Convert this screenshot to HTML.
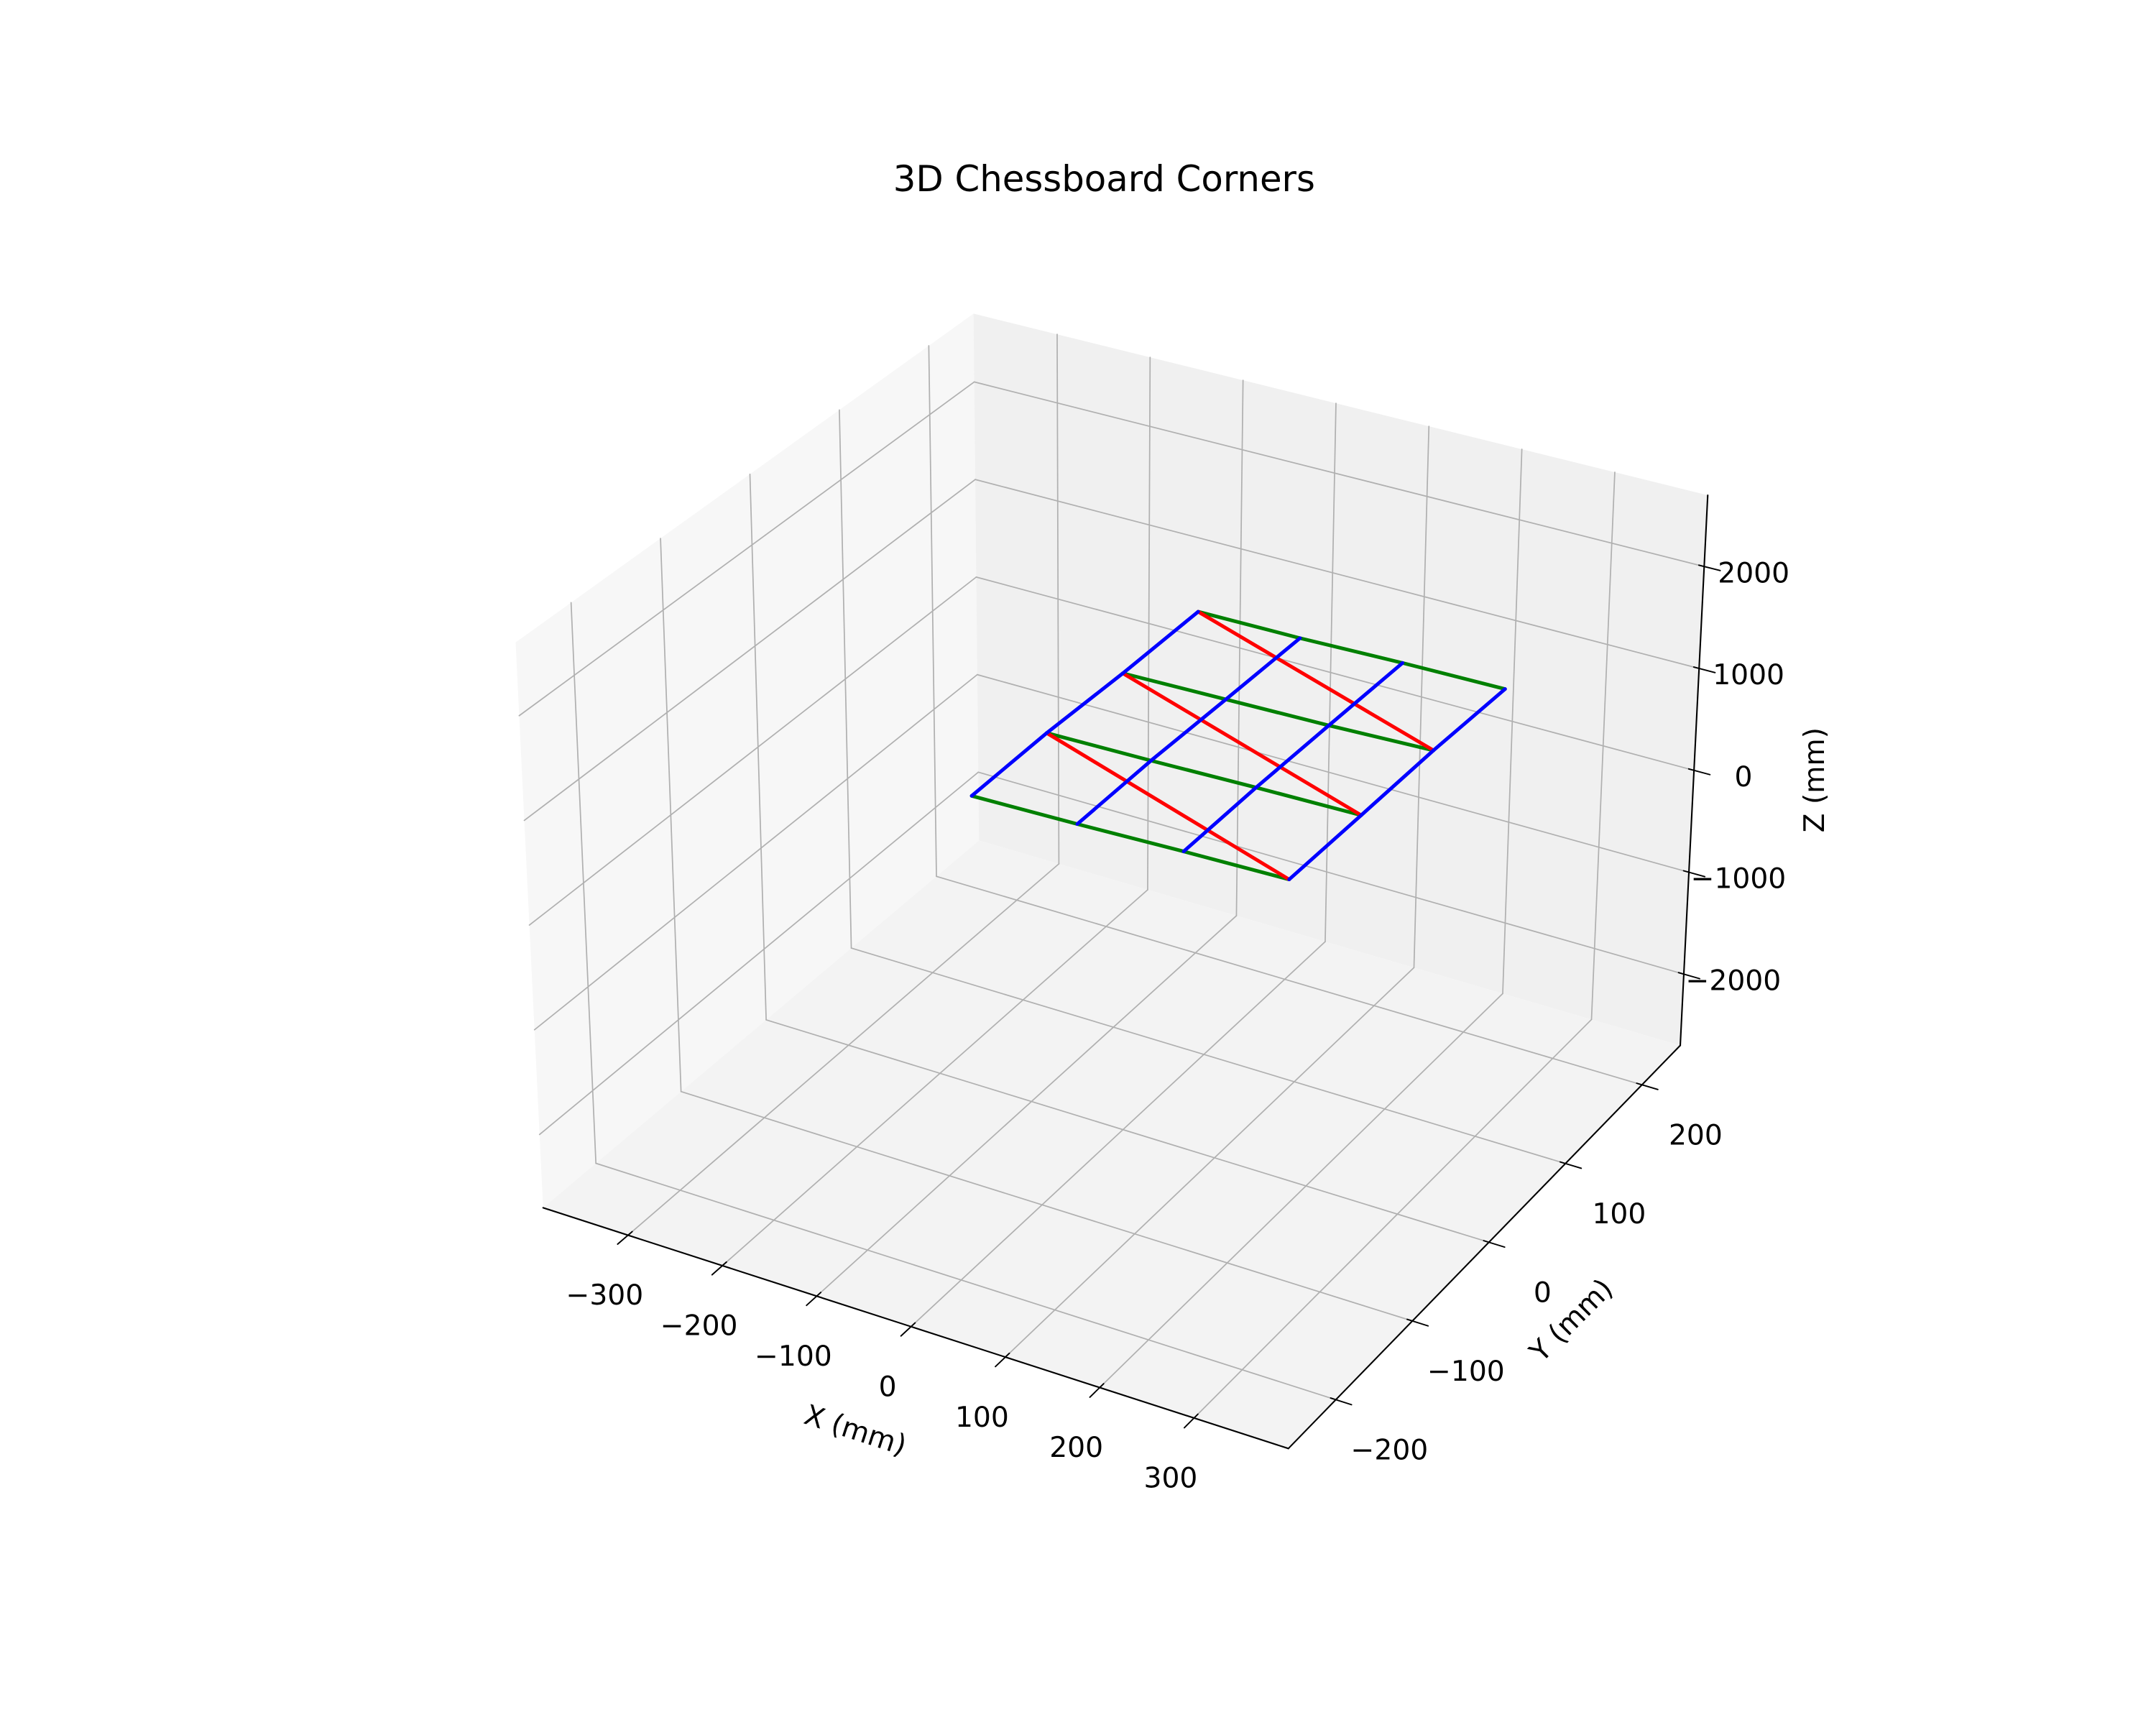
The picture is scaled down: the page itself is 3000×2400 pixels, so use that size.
<!DOCTYPE html>
<html><head><meta charset="utf-8"><style>
html,body{margin:0;padding:0;background:#fff;}
svg{display:block;}
text{font-family:"DejaVu Sans","Liberation Sans",sans-serif;fill:#000;}
</style></head><body>
<svg id="chart" width="3000" height="2400" viewBox="0 0 1568 1254" preserveAspectRatio="none" xmlns="http://www.w3.org/2000/svg">
<rect x="0" y="0" width="1568" height="1254" fill="#fff"/>
<text x="803" y="130" style="font-size:26px" text-anchor="middle" dominant-baseline="central">3D Chessboard Corners</text>
<g id="panes"></g>
<g id="grid"></g>
<g id="axes"></g>
<g id="series"></g>
<text transform="translate(622,1040) rotate(18)" style="font-size:20.5px" text-anchor="middle" dominant-baseline="central">X (mm)</text>
<text transform="translate(1143,960) rotate(-45)" style="font-size:20.5px" text-anchor="middle" dominant-baseline="central">Y (mm)</text>
<text transform="translate(1320,567) rotate(-90)" style="font-size:20.5px" text-anchor="middle" dominant-baseline="central">Z (mm)</text>
</svg>
<script>
// axis ranges
const xRange = [-390, 400];
const yRange = [-262, 250];
const zRange = [-2700, 2700];
// tick values
const xTicks = [-300, -200, -100, 0, 100, 200, 300];
const yTicks = [-200, -100, 0, 100, 200];
const zTicks = [-2000, -1000, 0, 1000, 2000];
// chessboard corners, row by row (4 rows x 4 columns)
const cornerX = [-174, -63, 48, 159,  -148, -38, 72, 183,  -121, -12, 97, 207,  -95, 14, 122, 231];
const cornerY = [15, 18, 22, 25,  75, 78, 82, 85,  135, 138, 141, 145,  195, 197, 201, 204];
const cornerZ = [0, 0, 0, 0,  272, 266, 259, 253,  514, 511, 508, 510,  771, 762, 752, 738];
const nRows = 4, nCols = 4;

const NS = "http://www.w3.org/2000/svg";
const C = {
 "000":[395,878],"100":[937,1053],"010":[712,611],"110":[1222,760],
 "001":[375,467],"101":[927,645],"011":[708,228],"111":[1242,360]
};
function lerp(a,b,t){return [a[0]+(b[0]-a[0])*t,a[1]+(b[1]-a[1])*t];}
function proj(x,y,z){
  const u=(x-xRange[0])/(xRange[1]-xRange[0]);
  const v=(y-yRange[0])/(yRange[1]-yRange[0]);
  const w=(z-zRange[0])/(zRange[1]-zRange[0]);
  const a=lerp(lerp(C["000"],C["100"],u),lerp(C["010"],C["110"],u),v);
  const b=lerp(lerp(C["001"],C["101"],u),lerp(C["011"],C["111"],u),v);
  return lerp(a,b,w);
}
function line(g,p,q,stroke,sw,name){
  const l=document.createElementNS(NS,"line");
  l.setAttribute("x1",p[0]);l.setAttribute("y1",p[1]);
  l.setAttribute("x2",q[0]);l.setAttribute("y2",q[1]);
  l.setAttribute("stroke",stroke);l.setAttribute("stroke-width",sw);
  l.setAttribute("stroke-linecap","round");
  
  
  g.appendChild(l);return l;
}
function poly(g,pts,fill,name){
  const p=document.createElementNS(NS,"polygon");
  p.setAttribute("points",pts.map(q=>q.join(",")).join(" "));
  p.setAttribute("fill",fill);
  
  
  g.appendChild(p);
}
function text(g,x,y,s,name){
  const t=document.createElementNS(NS,"text");
  t.setAttribute("x",x);t.setAttribute("y",y);
  t.setAttribute("style","font-size:20.5px");
  t.setAttribute("text-anchor","middle");
  t.setAttribute("dominant-baseline","central");
  t.textContent=s;
  
  
  g.appendChild(t);
}
const X0=xRange[0],X1=xRange[1],Y0=yRange[0],Y1=yRange[1],Z0=zRange[0],Z1=zRange[1];
const panes=document.getElementById("panes");
poly(panes,[proj(X0,Y0,Z0),proj(X0,Y1,Z0),proj(X0,Y1,Z1),proj(X0,Y0,Z1)],"#f7f7f7","left-pane");
poly(panes,[proj(X0,Y1,Z0),proj(X1,Y1,Z0),proj(X1,Y1,Z1),proj(X0,Y1,Z1)],"#f0f0f0","back-pane");
poly(panes,[proj(X0,Y0,Z0),proj(X1,Y0,Z0),proj(X1,Y1,Z0),proj(X0,Y1,Z0)],"#f3f3f3","floor-pane");

const grid=document.getElementById("grid"), gc="#b0b0b0", gw=0.9;
xTicks.forEach(t=>{
  line(grid,proj(t,Y0,Z0),proj(t,Y1,Z0),gc,gw,"x-grid-floor");
  line(grid,proj(t,Y1,Z0),proj(t,Y1,Z1),gc,gw,"x-grid-back");
});
yTicks.forEach(t=>{
  line(grid,proj(X0,t,Z0),proj(X1,t,Z0),gc,gw,"y-grid-floor");
  line(grid,proj(X0,t,Z0),proj(X0,t,Z1),gc,gw,"y-grid-left");
});
zTicks.forEach(t=>{
  line(grid,proj(X0,Y0,t),proj(X0,Y1,t),gc,gw,"z-grid-left");
  line(grid,proj(X0,Y1,t),proj(X1,Y1,t),gc,gw,"z-grid-back");
});

const axes=document.getElementById("axes");
line(axes,proj(X0,Y0,Z0),proj(X1,Y0,Z0),"#000",1.1,"x-axis-line");
line(axes,proj(X1,Y0,Z0),proj(X1,Y1,Z0),"#000",1.1,"y-axis-line");
line(axes,proj(X1,Y1,Z0),proj(X1,Y1,Z1),"#000",1.1,"z-axis-line");
function unit(d){const n=Math.hypot(d[0],d[1]);return [d[0]/n,d[1]/n];}
function lbl(t){return (t<0?"\u2212":"")+Math.abs(t);}
xTicks.forEach(t=>{
  const p=proj(t,Y0,Z0), q=proj(t,Y1,Z0), d=unit([p[0]-q[0],p[1]-q[1]]);
  line(axes,[p[0]-d[0]*4,p[1]-d[1]*4],[p[0]+d[0]*10,p[1]+d[1]*10],"#000",1,"x-tick");
  text(axes,p[0]-17,p[1]+44,lbl(t),"x-tick-label");
});
yTicks.forEach(t=>{
  const p=proj(X1,t,Z0), q=proj(X0,t,Z0), d=unit([p[0]-q[0],p[1]-q[1]]);
  line(axes,[p[0]-d[0]*4,p[1]-d[1]*4],[p[0]+d[0]*12,p[1]+d[1]*12],"#000",1,"y-tick");
  text(axes,p[0]+39,p[1]+37,lbl(t),"y-tick-label");
});
zTicks.forEach(t=>{
  const p=proj(X1,Y1,t), q=proj(X0,Y1,t), d=unit([p[0]-q[0],p[1]-q[1]]);
  line(axes,[p[0]-d[0]*4,p[1]-d[1]*4],[p[0]+d[0]*12,p[1]+d[1]*12],"#000",1,"z-tick");
  text(axes,p[0]+36,p[1]+5,lbl(t),"z-tick-label");
});

const series=document.getElementById("series");
function P(r,c){const i=r*nCols+c;return proj(cornerX[i],cornerY[i],cornerZ[i]);}
for(let r=0;r<nRows;r++) for(let c=0;c<nCols-1;c++) line(series,P(r,c),P(r,c+1),"#008000",2.6,"row-segment");
for(let r=1;r<nRows;r++) line(series,P(r,0),P(r-1,nCols-1),"#ff0000",2.6,"row-link-segment");
for(let c=0;c<nCols;c++) for(let r=0;r<nRows-1;r++) line(series,P(r,c),P(r+1,c),"#0000ff",2.6,"column-segment");
</script>
</body></html>
